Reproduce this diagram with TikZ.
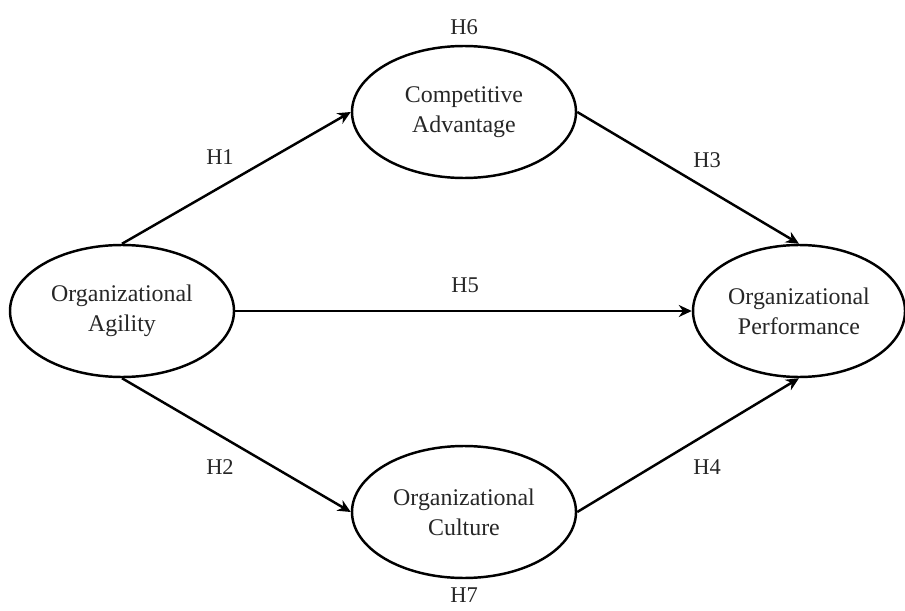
\documentclass[tikz,border=0pt]{standalone}
\usepackage{fontspec}
\setmainfont{Liberation Serif}
\usetikzlibrary{shapes.geometric,arrows.meta}
\begin{document}
\begin{tikzpicture}[construct/.style = {draw, ellipse, line width = 1.4pt, minimum width = 4.48cm, minimum height = 2.64cm, inner sep = 0pt, align = center, text = black!85, font = \fontsize{13.6}{17}\selectfont},
        path/.style = {-{Stealth[length = 2.6mm, width = 2.4mm]}, line width = 1.4pt},
        hyp/.style = {inner sep = 1pt, text = black!85, font = \fontsize{12.8}{15}\selectfont}]
        \useasboundingbox (0, 0) rectangle (18.1, 12.2);
        \node [construct] (agility) at (2.44, 5.98) {Organizational\\Agility};
        \node [construct] (advantage) at (9.28, 9.96) {Competitive\\Advantage};
        \node [construct] (culture) at (9.28, 1.96) {Organizational\\Culture};
        \node [construct, minimum width = 4.24cm] (performance) at (15.98, 5.98) {Organizational\\Performance};
        \draw [path] (agility.north) -- (advantage.west);
        \draw [path] (advantage.east) -- (performance.north);
        \draw [path] (agility.east) -- (performance.west);
        \draw [path] (agility.south) -- (culture.west);
        \draw [path] (culture.east) -- (performance.south);
        \node [hyp] (h1) at (4.4, 9.06) {H1};
        \node [hyp] (h2) at (4.4, 2.86) {H2};
        \node [hyp] (h3) at (14.14, 9.0) {H3};
        \node [hyp] (h4) at (14.14, 2.86) {H4};
        \node [hyp] (h5) at (9.3, 6.5) {H5};
        \node [hyp] (h6) at (9.28, 11.66) {H6};
        \node [hyp] (h7) at (9.28, 0.3) {H7};
    \end{tikzpicture}
\end{document}
